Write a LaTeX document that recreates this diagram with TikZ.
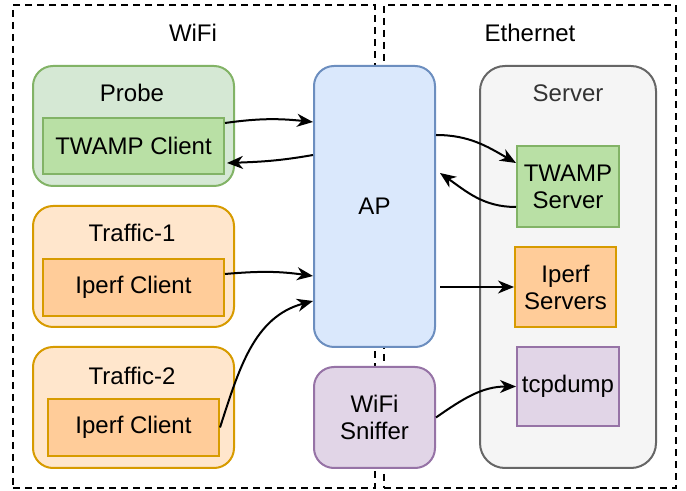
\documentclass[tikz,border=0pt]{standalone}
\usepackage{fontspec}
\setmainfont{Liberation Sans}
\usetikzlibrary{arrows.meta,calc,positioning}

\begin{document}
\begin{tikzpicture}[x=0.5pt,y=-0.5pt,font=\fontsize{12}{13.5}\selectfont,
		region/.style={draw,dash pattern=on 3.5pt off 2.5pt,line width=1pt,inner sep=0pt},
		hostbox/.style={draw,rounded corners=10pt,line width=1pt,inner sep=0pt},
		partbox/.style={draw,align=center,line width=1pt,inner sep=0pt},
		link/.style={-{Stealth[length=8pt,width=6.5pt,inset=2.5pt]},line width=1pt}]

		    \definecolor{greenfill}{HTML}{D5E8D4}
		    \definecolor{greenpart}{HTML}{B9E0A5}
		    \definecolor{greenline}{HTML}{82B366}
		    \definecolor{orangefill}{HTML}{FFE6CC}
		    \definecolor{orangepart}{HTML}{FFCC99}
		    \definecolor{orangeline}{HTML}{D79B00}
		    \definecolor{bluefill}{HTML}{DAE8FC}
		    \definecolor{blueline}{HTML}{6C8EBF}
		    \definecolor{purplefill}{HTML}{E1D5E7}
		    \definecolor{purpleline}{HTML}{9673A6}
		    \definecolor{greyfill}{HTML}{F5F5F5}
		    \definecolor{greyline}{HTML}{666666}
		    \definecolor{greytext}{HTML}{333333}
		    \useasboundingbox (0,0) rectangle (686,491);

		    % the two networks
		    \node(wifi) [region,minimum width=181pt,minimum height=241.5pt] at (194,246.5) {};
		    \node(eth) [region,minimum width=146pt,minimum height=241.5pt] at (530,246.5) {};
		    \node(wifilabel) at (193,33) {WiFi};
		    \node(ethlabel) at (530,33) {Ethernet};

		    \node(probe) [hostbox,fill=greenfill,draw=greenline,minimum width=100.5pt,minimum height=60pt] at (133.5,126) {};
		    \node(probelabel) at (132,93) {Probe};
		    \node(twampc) [partbox,fill=greenpart,draw=greenline,minimum width=90.5pt,minimum height=28pt] at (133.5,146) {TWAMP Client};

		    \node(traffic1) [below=9pt of probe,hostbox,fill=orangefill,draw=orangeline,minimum width=100.5pt,minimum height=60.5pt] {};
		    \node(traffic1label) at (132,233) {Traffic-1};
		    \node(iperfc1) [partbox,fill=orangepart,draw=orangeline,minimum width=90.5pt,minimum height=28.5pt] at (133.5,287.5) {Iperf Client};

		    \node(traffic2) [below=9pt of traffic1,hostbox,fill=orangefill,draw=orangeline,minimum width=100.5pt,minimum height=60.5pt] {};
		    \node(traffic2label) at (132,376) {Traffic-2};
		    \node(iperfc2) [partbox,fill=orangepart,draw=orangeline,minimum width=85.5pt,minimum height=28.5pt] at (133.5,427.5) {Iperf Client};

		    \node(ap) [hostbox,fill=bluefill,draw=blueline,minimum width=60.5pt,minimum height=140.5pt] at (374.5,206.5) {AP};
		    \node(sniffer) [below=9pt of ap,hostbox,align=center,fill=purplefill,draw=purpleline,minimum width=60.5pt,minimum height=50.5pt] {WiFi\\Sniffer};

		    \node(server) [hostbox,rounded corners=12.5pt,fill=greyfill,draw=greyline,minimum width=88pt,minimum height=201pt] at (568,267) {};
		    \node(serverlabel) [text=greytext] at (568,93) {Server};
		    \node(twamps) [partbox,fill=greenpart,draw=greenline,minimum width=51pt,minimum height=40.5pt] at (568,186.5) {TWAMP\\Server};
		    \node(iperfs) [partbox,fill=orangepart,draw=orangeline,minimum width=50.5pt,minimum height=40pt] at (565.5,287) {Iperf\\Servers};
		    \node(tcpdump) [partbox,fill=purplefill,draw=purpleline,minimum width=51pt,minimum height=39.5pt] at (568,386.5) {tcpdump};

		    \draw[link] ([shift={(0,-23)}]twampc.east) to[out=8,in=174] ([shift={(0,-84.5)}]ap.west);
		    \draw[link] ([shift={(0,-51.5)}]ap.west) to[out=190,in=2] ([shift={(2,17)}]twampc.east);
		    \draw[link] ([shift={(0,-71.5)}]ap.east) to[out=0,in=150] ([shift={(0,-23.5)}]twamps.west);
		    \draw[link] ([shift={(0,20.5)}]twamps.west) to[out=180,in=-35] ([shift={(4,-33.5)}]ap.east);
		    \draw[link] ([shift={(0,-13.5)}]iperfc1.east) to[out=5,in=172] ([shift={(0,69.5)}]ap.west);
		    \draw[link] (iperfc2.east) to[out=72,in=195] ([shift={(0,94.5)}]ap.west);
		    \draw[link] ($(ap.east |- iperfs.west)+(4,0)$) -- (iperfs.west);
		    \draw[link] (sniffer.east) to[out=35,in=180] (tcpdump.west);

\end{tikzpicture}
\end{document}
